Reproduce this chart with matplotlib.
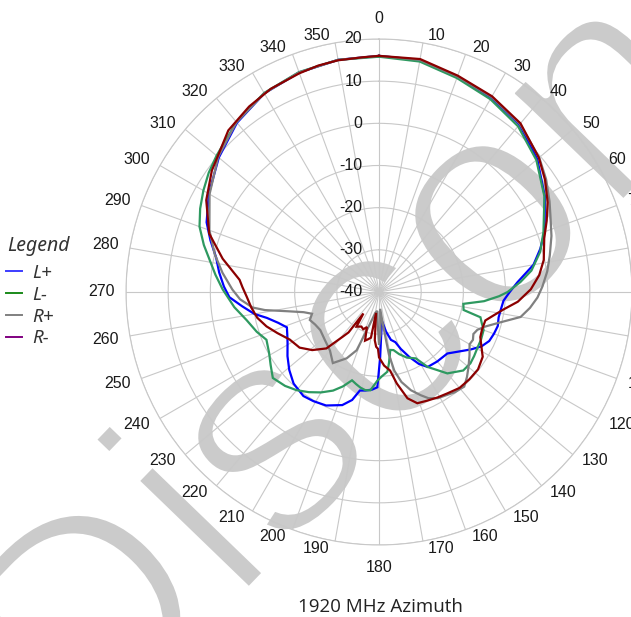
import matplotlib
matplotlib.use('Agg')
import matplotlib.pyplot as plt
from matplotlib.lines import Line2D
from matplotlib import patheffects as pe
import numpy as np

# angle in degrees (clockwise from top), gain in dB
lp_ang = [0, 10, 20, 30, 40, 50, 60, 70, 75, 80, 86, 90, 94, 98, 102, 106, 110, 114, 118, 122, 127, 132,
          140, 147, 151, 155, 159, 162, 166, 170, 174, 177, 179, 181, 184, 188, 191, 194, 198, 205, 211,
          216, 223, 229, 235, 241, 245, 249, 253, 257, 260, 264, 268, 272, 277, 282, 287, 292, 300, 310,
          320, 330, 340, 350]
lp_db = [16.0, 15.8, 14.3, 13.2, 11.8, 9.0, 5.4, 1.8, -0.4, -2.8, -7.1, -9.0, -10.4, -10.8, -11.0, -10.7,
         -11.0, -11.4, -12.5, -14.3, -16.5, -18.2, -18.5, -18.8, -20.5, -23.0, -25.5, -27.5, -28.3, -30.5,
         -33.0, -30.0, -24.5, -17.4, -16.8, -16.4, -16.2, -13.6, -11.8, -10.3, -9.8, -9.5, -10.3, -11.8,
         -13.5, -15.2, -16.0, -16.6, -15.0, -12.7, -10.0, -7.4, -4.5, -3.2, -1.8, -0.5, 1.8, 4.1, 6.6, 9.6,
         12.4, 14.4, 15.4, 15.9]

lm_ang = [0, 10, 20, 30, 40, 50, 60, 70, 76, 82, 86, 90, 92, 95, 98, 102, 104, 107, 110, 115, 119, 124,
          128, 133, 140, 147, 151, 157, 162, 166, 169, 172, 174, 178, 181, 185, 188, 191, 194, 197, 201,
          205, 210, 215, 220, 225, 231, 236, 241, 247, 252, 258, 264, 271, 276, 281, 285, 290, 295, 300,
          305, 310, 320, 330, 340, 350]
lm_db = [15.8, 15.5, 14.0, 12.8, 11.3, 8.7, 5.3, 1.5, -0.6, -3.5, -6.4, -9.5, -11.5, -15.0, -19.8, -19.5,
         -15.2, -14.5, -13.6, -13.3, -13.2, -12.8, -12.5, -12.7, -14.8, -18.8, -22.0, -23.1, -24.5, -25.8,
         -26.0, -23.0, -21.0, -20.0, -19.0, -16.6, -16.5, -16.9, -17.5, -18.1, -16.0, -14.2, -12.5, -11.0,
         -9.6, -8.5, -7.6, -9.0, -10.2, -11.0, -9.5, -7.9, -5.5, -2.9, -1.0, 1.0, 3.0, 5.3, 6.8, 8.1, 9.3,
         10.3, 12.6, 14.5, 15.5, 15.9]

rp_ang = [0, 10, 20, 30, 40, 50, 56, 62, 66, 72, 78, 83, 88, 92, 96, 100, 104, 108, 111, 114, 117, 120,
          125, 130, 134, 138, 143, 147, 151, 155, 158, 162, 166, 169, 171, 173, 176, 178, 180, 182, 185,
          190, 196, 201, 206, 213, 220, 228, 237, 243, 248, 252, 255, 258, 261, 263, 267, 271, 277, 283,
          290, 300, 310, 320, 330, 340, 350]
rp_db = [16.0, 15.9, 14.4, 13.4, 12.0, 9.6, 7.8, 5.8, 4.5, 3.0, 1.4, 0.2, -1.2, -2.4, -4.0, -5.9, -10.3,
         -13.5, -15.0, -15.5, -15.0, -15.2, -13.8, -12.3, -11.0, -9.8, -10.2, -10.8, -11.2, -12.2, -13.6,
         -15.5, -18.0, -21.0, -25.0, -32.0, -36.0, -30.0, -27.5, -32.0, -35.5, -35.0, -32.0, -25.2, -22.5,
         -19.9, -21.9, -22.8, -23.4, -23.0, -22.3, -23.3, -21.5, -18.0, -12.6, -9.8, -7.0, -5.2, -2.6, 0.0,
         2.8, 6.4, 9.8, 12.6, 14.4, 15.4, 15.9]

rm_ang = [0, 10, 20, 30, 40, 50, 56, 62, 67, 72, 79, 84, 89, 94, 98, 102, 105, 110, 114, 118, 122, 128,
          134, 140, 146, 151, 156, 161, 165, 169, 172, 176, 180, 181, 183, 185, 188, 190, 193, 196, 199,
          203, 207, 213, 216, 217, 219, 223, 229, 235, 242, 248, 253, 258, 263, 268, 272, 275, 282, 289,
          298, 306, 317, 325, 332, 340, 345, 350, 356]
rm_db = [16.0, 16.1, 14.6, 13.6, 12.2, 9.5, 7.5, 5.3, 3.2, 1.2, -0.2, -1.8, -4.0, -7.0, -10.2, -12.5,
         -13.9, -14.0, -13.7, -12.5, -11.0, -10.2, -10.2, -10.3, -11.0, -11.4, -11.8, -12.1, -13.9, -17.9,
         -21.2, -22.5, -24.5, -26.5, -27.0, -28.5, -35.0, -29.0, -28.5, -28.0, -31.2, -30.4, -30.8, -30.2,
         -33.7, -28.0, -26.4, -21.7, -19.0, -17.0, -16.0, -14.0, -12.1, -10.5, -9.5, -8.6, -7.6, -6.8,
         -2.1, 2.6, 6.4, 9.0, 12.4, 13.7, 14.6, 15.2, 15.6, 15.8, 15.8]

series = [('L+', lp_ang, lp_db, '#0000ff', '#3c3cff'),
          ('L-', lm_ang, lm_db, '#2e9960', '#1a8a1a'),
          ('R+', rp_ang, rp_db, '#808080', '#808080'),
          ('R-', rm_ang, rm_db, '#8b0000', '#800080')]

theta_ticks = np.arange(0, 360, 10)
r_ticks = [-40, -30, -20, -10, 0, 10, 20]

fig = plt.figure(figsize=(6.31, 6.17), dpi=100)

# watermark behind everything (white outline thins the strokes)
fig.text(83 / 631, 1 - 764 / 617, 'Discontinued', rotation=46, rotation_mode='anchor',
         ha='left', va='baseline', fontsize=218, family='Liberation Sans', color='#cbcbcb', zorder=-10,
         path_effects=[pe.Normal(), pe.Stroke(linewidth=6.5, foreground='white')])

ax = fig.add_axes([0.1997, 0.1167, 0.8019, 0.8201], projection='polar')
ax.patch.set_alpha(0)
ax.set_theta_zero_location('N')
ax.set_theta_direction(-1)
ax.set_rlim(-40, 20)
ax.set_rticks(r_ticks[1:])
ax.set_yticklabels([])
ax.set_thetagrids(theta_ticks, labels=[])
ax.grid(color='#c8c8c8', lw=0.8)
ax.spines['polar'].set_color('#c8c8c8')
ax.spines['polar'].set_linewidth(0.8)
ax.tick_params(length=0)

for name, ang, db, col, _ in series:
    a = np.deg2rad(np.append(ang, 360))
    d = np.append(db, db[0])
    ax.plot(a, d, color=col, lw=1.6, solid_joinstyle='miter')

# angle labels
for t in theta_ticks:
    s = str(t)
    hw = 4.45 * len(s)
    rad = np.deg2rad(t)
    sn, cs = np.sin(rad), np.cos(rad)
    if t == 0:
        dx, dy = 0, 20
    elif t == 180:
        dx, dy = 0, -23
    else:
        dx = np.sign(sn) * (hw + 4 + 7 * abs(sn))
        dy = 7 * np.cbrt(cs)
    ax.annotate(s, xy=(rad, 20), xytext=(dx, dy), textcoords='offset pixels',
                ha='center', va='center', fontsize=11.5,
                family='Liberation Sans', color='#1a1a1a', annotation_clip=False)

# radial labels
for v in r_ticks:
    ax.annotate(str(v), xy=(0, v), xytext=(-17, 0), textcoords='offset pixels',
                ha='right', va='center', fontsize=11.5, family='Liberation Sans', color='#1a1a1a')

fig.text(7 / 631, 1 - 246 / 617, 'Legend', ha='left', va='center', fontsize=14,
         family='Noto Sans', style='italic', color='#333333')

handles = [Line2D([], [], color=lc, lw=1.4) for _, _, _, _, lc in series]
labels = [s[0] for s in series]
leg = fig.legend(handles, labels, loc='upper left', bbox_to_anchor=(6 / 631, 1 - 264 / 617),
                 frameon=False, borderpad=0, borderaxespad=0, handlelength=0.85,
                 handletextpad=0.55, labelspacing=0.2,
                 prop={'family': 'Noto Sans', 'style': 'italic', 'size': 13.5})
for txt in leg.get_texts():
    txt.set_color('#333333')

fig.text(380 / 631, 1 - 607 / 617, '1920 MHz Azimuth', ha='center', va='center', fontsize=13.5,
         family='Open Sans', color='#222222')

fig.savefig('out.png', dpi=100)
